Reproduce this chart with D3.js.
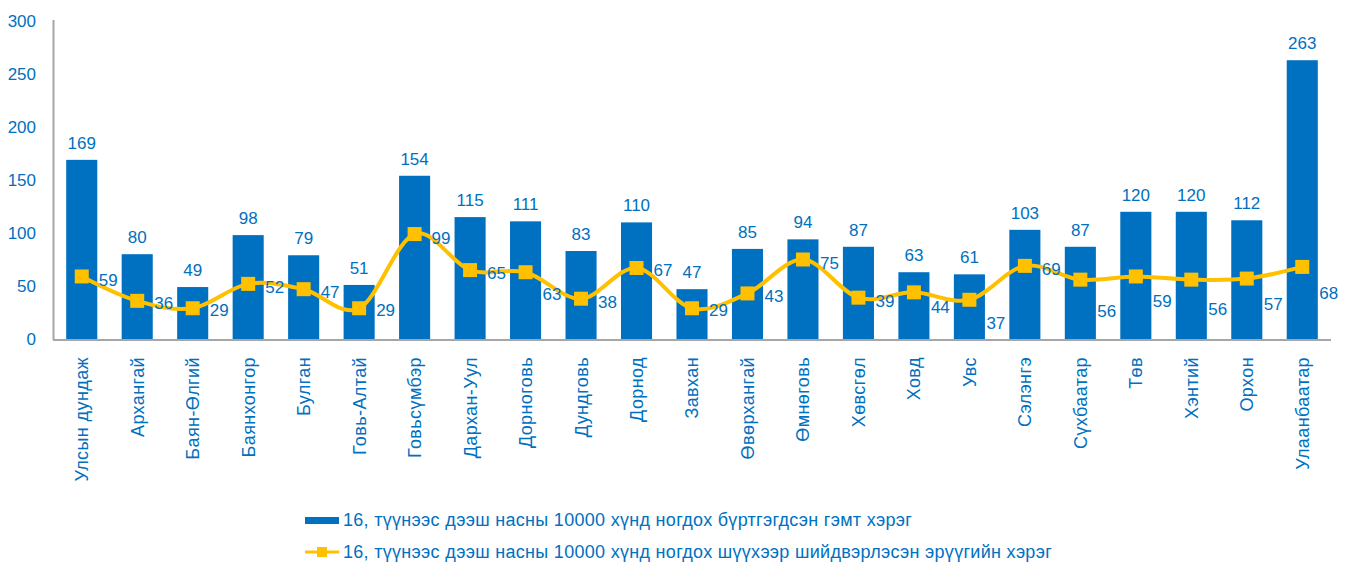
<!DOCTYPE html>
<html>
<head>
<meta charset="utf-8">
<script src="https://cdn.jsdelivr.net/npm/d3@7/dist/d3.min.js"></script>
<style>
  body { margin: 0; background: #fff; }
  text { font-family: "Liberation Sans", Arial, sans-serif; }
</style>
</head>
<body>
<div id="viz"></div>
<script>
// ========================================
// Data
// ========================================

var categories = ['Улсын дундаж', 'Архангай', 'Баян-Өлгий', 'Баянхонгор', 'Булган', 'Говь-Алтай',
   'Говьсүмбэр', 'Дархан-Уул', 'Дорноговь', 'Дундговь', 'Дорнод', 'Завхан', 'Өвөрхангай',
   'Өмнөговь', 'Хөвсгөл', 'Ховд', 'Увс', 'Сэлэнгэ', 'Сүхбаатар', 'Төв', 'Хэнтий', 'Орхон', 'Улаанбаатар'];

var crimes = [169, 80, 49, 98, 79, 51, 154, 115, 111, 83, 110, 47, 85, 94, 87, 63, 61, 103, 87, 120, 120, 112, 263];
var convicted = [59, 36, 29, 52, 47, 29, 99, 65, 63, 38, 67, 29, 43, 75, 39, 44, 37, 69, 56, 59, 56, 57, 68];

var y_ticks = [0, 50, 100, 150, 200, 250, 300];

var series_names = [
   '16, түүнээс дээш насны 10000 хүнд ногдох бүртгэгдсэн гэмт хэрэг',
   '16, түүнээс дээш насны 10000 хүнд ногдох шүүхээр шийдвэрлэсэн эрүүгийн хэрэг'
];

// vertical nudge of the line labels (as placed in the original)
var line_label_dy = [3, 2, 2, 3, 3, 2, 4, 3, 22, 3, 2, 2, 2, 3, 3, 15, 23, 3, 31, 24, 29, 25, 26];

// ========================================
// Drawing
// ========================================

var width = 1353, height = 566;
var bar_color = '#0070C0',
    line_color = '#FFC000',
    text_color = '#0070C0',
    axis_color = '#A6A6A6',
    font_size = 17,
    word_size = 18;

var svg = d3.select('#viz').append('svg')
   .attr('width', width)
   .attr('height', height);

var x = d3.scaleBand().domain(categories).range([54, 1330]).paddingInner(0.44).paddingOuter(0.22);
var y = d3.scaleLinear().domain([0, 300]).range([339, 21]);

// y tick labels (no tick marks)
svg.selectAll('.ytick')
   .data(y_ticks)
   .enter().append('text')
   .attr('class', 'ytick')
   .attr('x', 36)
   .attr('y', d => y(d))
   .attr('dy', '0.36em')
   .attr('text-anchor', 'end')
   .style('font-size', font_size + 'px')
   .style('fill', text_color)
   .text(d => d);

// bars
svg.selectAll('.bar')
   .data(crimes)
   .enter().append('rect')
   .attr('class', 'bar')
   .attr('x', (d, i) => x(categories[i]))
   .attr('y', d => y(d))
   .attr('width', x.bandwidth())
   .attr('height', d => y(0) - y(d))
   .style('fill', bar_color);

// axes lines
svg.append('line')
   .attr('x1', 53.5).attr('x2', 53.5)
   .attr('y1', 20).attr('y2', 340)
   .style('stroke', axis_color).style('stroke-width', 2);
svg.append('line')
   .attr('x1', 53).attr('x2', 1331)
   .attr('y1', 340).attr('y2', 340)
   .style('stroke', axis_color).style('stroke-width', 2);

// bar value labels
svg.selectAll('.bar-label')
   .data(crimes)
   .enter().append('text')
   .attr('class', 'bar-label')
   .attr('x', (d, i) => x(categories[i]) + x.bandwidth() / 2)
   .attr('y', d => y(d) - 11)
   .attr('text-anchor', 'middle')
   .style('font-size', font_size + 'px')
   .style('fill', text_color)
   .text(d => d);

// smoothed line
var cx = (d, i) => x(categories[i]) + x.bandwidth() / 2;
var line = d3.line()
   .x(cx)
   .y(d => y(d))
   .curve(d3.curveCardinal.tension(0));

svg.append('path')
   .datum(convicted)
   .attr('d', line)
   .style('fill', 'none')
   .style('stroke', line_color)
   .style('stroke-width', 4);

svg.selectAll('.marker')
   .data(convicted)
   .enter().append('rect')
   .attr('class', 'marker')
   .attr('x', (d, i) => cx(d, i) - 7)
   .attr('y', d => y(d) - 7)
   .attr('width', 14)
   .attr('height', 14)
   .style('fill', line_color);

svg.selectAll('.line-label')
   .data(convicted)
   .enter().append('text')
   .attr('class', 'line-label')
   .attr('x', (d, i) => cx(d, i) + 17)
   .attr('y', (d, i) => y(d) + line_label_dy[i])
   .attr('dy', '0.36em')
   .style('font-size', font_size + 'px')
   .style('fill', text_color)
   .text(d => d);

// category labels, rotated
svg.selectAll('.cat')
   .data(categories)
   .enter().append('text')
   .attr('class', 'cat')
   .attr('transform', d => `translate(${x(d) + x.bandwidth() / 2}, 357)rotate(-90)`)
   .attr('dy', '0.36em')
   .attr('text-anchor', 'end')
   .style('font-size', word_size + 'px')
   .style('letter-spacing', '0.4px')
   .style('fill', text_color)
   .text(d => d);

// ========================================
// Legend
// ========================================

var legend = svg.append('g');

legend.append('rect')
   .attr('x', 305).attr('y', 517)
   .attr('width', 34).attr('height', 7)
   .style('fill', bar_color);

legend.append('line')
   .attr('x1', 305).attr('x2', 339)
   .attr('y1', 552).attr('y2', 552)
   .style('stroke', line_color).style('stroke-width', 3);
legend.append('rect')
   .attr('x', 317).attr('y', 547)
   .attr('width', 10).attr('height', 10)
   .style('fill', line_color);

legend.selectAll('.legend-text')
   .data(series_names)
   .enter().append('text')
   .attr('class', 'legend-text')
   .attr('x', 343)
   .attr('y', (d, i) => 520 + i * 32)
   .attr('dy', '0.36em')
   .style('font-size', word_size + 'px')
   .style('letter-spacing', '0.3px')
   .style('fill', text_color)
   .text(d => d);
</script>
</body>
</html>
